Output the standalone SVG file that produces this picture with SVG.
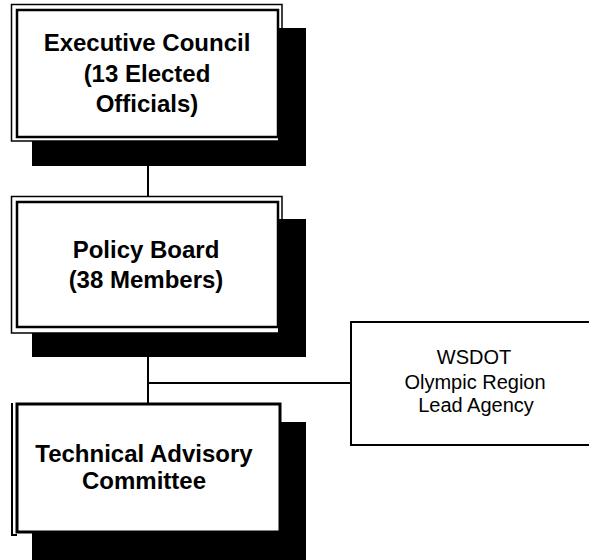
<svg xmlns="http://www.w3.org/2000/svg" width="589" height="560" viewBox="0 0 589 560">
<style>
.shadow{fill:#000}
.outer{fill:#fff;stroke:#000;stroke-width:1.5}
.inner{fill:#fff;stroke:#000;stroke-width:2.5}
.t{font-family:"Liberation Sans",Arial,sans-serif;font-weight:bold;font-size:24px;text-anchor:middle;fill:#000}
.s{font-family:"Liberation Sans",Arial,sans-serif;font-size:20px;text-anchor:middle;fill:#000}
.line{stroke:#000;stroke-width:2;fill:none}
</style>
<rect width="589" height="560" fill="#fff"/>
<g id="connectors">
<path class="line" d="M148,166V197"/>
<path class="line" d="M148,357V403"/>
<path class="line" d="M148,383H351"/>
</g>
<g id="executive-council">
<rect class="shadow" x="32" y="28" width="274" height="138"/>
<rect class="outer" x="11.5" y="4.5" width="270.5" height="136.5"/>
<rect class="shadow" x="278" y="28" width="5" height="114"/>
<rect class="inner" x="17" y="10" width="261" height="127"/>
<text class="t" x="147" y="51">Executive Council</text>
<text class="t" x="147" y="82">(13 Elected</text>
<text class="t" x="147" y="112">Officials)</text>
</g>
<g id="policy-board">
<rect class="shadow" x="32" y="219" width="274" height="138"/>
<rect class="outer" x="11.5" y="196.5" width="270.5" height="136.5"/>
<rect class="shadow" x="278" y="219" width="5" height="115"/>
<rect class="inner" x="17" y="202" width="261" height="125"/>
<text class="t" x="146" y="258">Policy Board</text>
<text class="t" x="146" y="288">(38 Members)</text>
</g>
<g id="technical-advisory-committee">
<rect class="shadow" x="32" y="422" width="274" height="140"/>
<rect fill="#fff" stroke="#000" stroke-width="3" x="17" y="404" width="263" height="128"/>
<path d="M12,403V535H17" fill="none" stroke="#000" stroke-width="2"/>
<text class="t" x="144" y="462">Technical Advisory</text>
<text class="t" x="144" y="489">Committee</text>
</g>
<g id="wsdot">
<rect fill="#fff" stroke="#000" stroke-width="2" x="351" y="322" width="250" height="123"/>
<text class="s" x="474" y="364">WSDOT</text>
<text class="s" x="475" y="389">Olympic Region</text>
<text class="s" x="476" y="412">Lead Agency</text>
</g>
</svg>
